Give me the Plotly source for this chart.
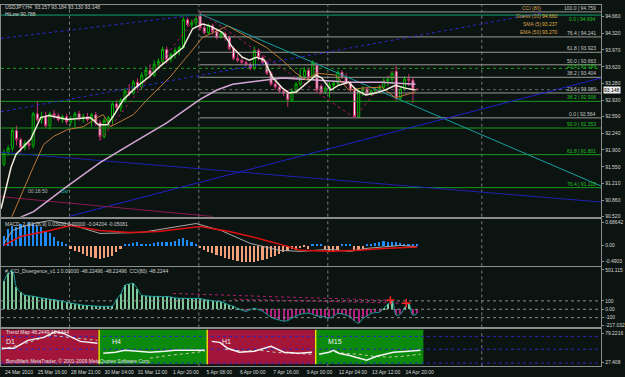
import plotly.graph_objects as go

W, H = 625, 377
BG = '#0b1411'
BORDER = '#8c8c8c'
FONT = 'Liberation Sans'
FS = 5

# ---------------- data ----------------
bars = list(range(100))
open_ = [91.603, 91.849, 91.931, 92.300, 92.115, 91.951, 92.033, 91.992, 92.648, 92.525,
         92.587, 92.402, 92.648, 92.607, 92.525, 92.587, 92.484, 92.546, 92.648, 92.546,
         92.587, 92.525, 92.628, 92.464, 92.177, 92.505, 92.566, 92.853, 92.771, 92.935,
         93.120, 93.079, 93.304, 93.202, 93.448, 93.550, 93.448, 93.673, 93.735, 93.981,
         93.776, 93.878, 93.960, 94.022, 94.596, 94.493, 94.534, 94.678, 94.432, 94.329,
         94.473, 94.350, 94.227, 94.309, 94.227, 94.001, 93.796, 93.755, 93.714, 93.673,
         93.591, 93.960, 93.817, 93.714, 93.489, 93.263, 93.202, 93.120, 93.079, 92.935,
         93.120, 93.263, 93.427, 93.550, 93.407, 93.653, 93.222, 93.099, 93.181, 93.243,
         93.284, 93.509, 93.407, 93.284, 93.140, 92.587, 93.120, 93.161, 93.058, 93.120,
         93.161, 93.202, 93.325, 93.366, 93.530, 92.976, 93.161, 93.366, 93.345, 93.157]
high = [91.910, 91.992, 92.361, 92.402, 92.156, 92.095, 92.115, 92.689, 92.894, 92.689,
        92.689, 92.689, 92.730, 92.669, 92.628, 92.648, 92.607, 92.689, 92.710, 92.648,
        92.669, 92.669, 92.689, 92.525, 92.566, 92.607, 92.894, 92.935, 92.976, 93.181,
        93.263, 93.345, 93.386, 93.509, 93.632, 93.673, 93.755, 93.796, 94.042, 94.042,
        93.919, 94.022, 94.063, 94.657, 94.637, 94.596, 94.657, 94.759, 94.534, 94.514,
        94.514, 94.411, 94.370, 94.350, 94.268, 94.042, 93.899, 93.837, 93.755, 93.714,
        94.042, 94.001, 93.858, 93.755, 93.530, 93.325, 93.263, 93.181, 93.140, 93.181,
        93.304, 93.591, 93.612, 93.591, 93.755, 93.714, 93.263, 93.222, 93.304, 93.325,
        93.550, 93.550, 93.489, 93.325, 93.181, 93.181, 93.222, 93.202, 93.161, 93.202,
        93.243, 93.386, 93.427, 93.530, 93.632, 93.222, 93.427, 93.468, 93.407, 93.184]
low = [91.562, 91.787, 91.869, 91.992, 91.849, 91.890, 91.910, 91.931, 92.484, 92.443,
       92.361, 92.320, 92.546, 92.484, 92.464, 92.423, 92.402, 92.361, 92.505, 92.464,
       92.484, 92.382, 92.402, 92.095, 92.136, 92.361, 92.423, 92.730, 92.689, 92.874,
       93.017, 93.038, 93.140, 93.161, 93.345, 93.386, 93.407, 93.591, 93.673, 93.694,
       93.714, 93.796, 93.858, 94.001, 94.452, 94.432, 94.452, 94.370, 94.288, 94.288,
       94.288, 94.186, 94.206, 94.165, 93.960, 93.755, 93.714, 93.673, 93.632, 93.550,
       93.550, 93.755, 93.673, 93.448, 93.222, 93.140, 93.079, 93.017, 92.792, 92.894,
       93.058, 93.222, 93.366, 93.345, 93.366, 93.099, 93.058, 93.058, 92.976, 93.120,
       93.243, 93.366, 93.243, 93.099, 92.564, 92.575, 93.017, 93.017, 93.017, 93.058,
       93.099, 93.140, 93.222, 93.263, 92.915, 92.935, 93.120, 93.222, 92.874, 93.130]
close = [91.849, 91.931, 92.300, 92.115, 91.951, 92.033, 91.992, 92.648, 92.525, 92.587,
         92.402, 92.648, 92.607, 92.525, 92.587, 92.484, 92.546, 92.648, 92.546, 92.587,
         92.525, 92.628, 92.464, 92.177, 92.505, 92.566, 92.853, 92.771, 92.935, 93.120,
         93.079, 93.304, 93.202, 93.448, 93.550, 93.448, 93.673, 93.735, 93.981, 93.776,
         93.878, 93.960, 94.022, 94.596, 94.493, 94.534, 94.616, 94.432, 94.329, 94.473,
         94.350, 94.227, 94.309, 94.227, 94.001, 93.796, 93.755, 93.714, 93.673, 93.591,
         93.960, 93.817, 93.714, 93.489, 93.263, 93.202, 93.120, 93.079, 92.935, 93.120,
         93.263, 93.427, 93.550, 93.407, 93.714, 93.140, 93.099, 93.181, 93.243, 93.284,
         93.509, 93.407, 93.284, 93.140, 92.587, 93.120, 93.161, 93.058, 93.120, 93.161,
         93.202, 93.325, 93.366, 93.489, 92.976, 93.161, 93.366, 93.345, 93.161, 93.148]

# moving averages (read at sparse points: bar position, price)
sma5_x = [-0.7, 0.5, 1.7, 2.9, 4.0, 6.4, 8.8, 10.7, 15.2, 20.7, 22.6, 24.8, 26.7, 28.6, 31.4,
          35.0, 37.4, 39.8, 42.9, 45.2, 47.6, 49.3, 52.4, 54.8, 57.1, 58.8, 60.5, 62.4, 64.3,
          66.7, 68.3, 70.0, 72.4, 74.8, 76.2, 78.3, 80.2, 82.6, 84.5, 86.7, 89.0, 91.4, 93.8,
          96.2, 98.6]
sma5_y = [90.68, 91.09, 91.54, 91.81, 91.91, 92.12, 92.57, 92.61, 92.53, 92.57, 92.42, 92.42,
          92.67, 92.94, 93.18, 93.43, 93.63, 93.80, 94.02, 94.41, 94.51, 94.47, 94.33, 94.02,
          93.82, 93.76, 93.82, 93.76, 93.41, 93.18, 93.08, 93.10, 93.28, 93.45, 93.39, 93.14,
          93.24, 93.30, 93.14, 93.04, 93.08, 93.14, 93.24, 93.18, 93.14]
guess_x = [1.7, 4.0, 7.1, 9.5, 11.9, 15.2, 19.0, 22.4, 23.8, 25.5, 31.0, 34.3, 39.8, 44.5,
           47.6, 53.6, 55.7, 58.8, 62.9, 66.7, 70.0, 72.4, 74.8, 79.5, 82.6, 85.7, 90.5, 93.8,
           98.6]
guess_y = [90.48, 90.95, 91.56, 92.01, 92.18, 92.32, 92.38, 92.57, 92.63, 92.38, 92.63, 92.94,
           93.41, 93.90, 94.23, 94.47, 94.37, 94.23, 94.02, 93.76, 93.49, 93.35, 93.49, 93.45,
           93.14, 93.18, 93.20, 92.98, 93.10]
ema50_x = [3.3, 7.1, 15.2, 23.1, 31.0, 39.0, 46.9, 51.0, 54.8, 58.8, 66.7, 74.8, 82.6, 90.5, 98.6]
ema50_y = [90.48, 90.62, 91.15, 91.64, 92.05, 92.46, 92.94, 93.14, 93.26, 93.30, 93.39, 93.35,
           93.30, 93.30, 93.26]

# zigzag swing points (bar, price)
zz_x = [23, 47, 84, 94]
zz_y = [92.095, 94.759, 92.564, 93.632]

# trend lines: (bar0, price0, bar1, price1)
teal_line = [46.9, 94.72, 143.1, 91.15]
blue_up = [15.5, 90.52, 143.1, 93.39]
blue_down = [-0.7, 91.85, 143.1, 90.82]
blue_dot1 = [-0.7, 94.21, 44.5, 94.68]
blue_dot2 = [-0.7, 92.69, 129.0, 94.74]
maroon_line = [-0.7, 90.93, 50.0, 90.52]

# fibonacci levels
fib_grey_lv = ['100.0', '76.4', '61.8', '50.0', '38.2', '23.6', '0.0']
fib_grey_px = [94.759, 94.241, 93.923, 93.663, 93.404, 93.080, 92.564]
fib_green_lv = ['0.0', '23.6', '38.2', '50.0', '61.8', '76.4']
fib_green_px = [94.694, 93.589, 92.906, 92.353, 91.801, 91.118]
fib_start_bar = 46.9

price_ticks = [94.660, 94.320, 93.970, 93.620, 93.280, 92.930, 92.590, 92.240, 91.900,
               91.550, 91.210, 90.860, 90.520]
last_price = 93.148
grid_bars = [15.7, 46.7, 77.6, 114.5]

time_ticks = [0, 8, 16, 24, 32, 40, 48, 56, 64, 72, 80, 88, 96]
time_text = ['24 Mar 2010', '25 Mar 16:00', '28 Mar 21:00', '30 Mar 04:00', '31 Mar 12:00',
             '1 Apr 20:00', '5 Apr 08:00', '6 Apr 00:00', '7 Apr 16:00', '9 Apr 00:00',
             '12 Apr 04:00', '13 Apr 12:00', '14 Apr 20:00']

# MACD
macd_hist = [0.30, 0.50, 0.60, 0.55, 0.66, 0.60, 0.72, 0.66, 0.60, 0.57,
             0.42, 0.38, 0.27, 0.15, 0.10, 0.05, -0.10, -0.15, -0.20, -0.25,
             -0.30, -0.35, -0.38, -0.40, -0.38, -0.35, -0.30, -0.20, -0.10, 0.03,
             0.05, 0.08, 0.10, 0.06, 0.04, 0.05, 0.08, 0.10, 0.12, 0.10,
             0.12, 0.15, 0.20, 0.22, 0.18, 0.12, 0.05, -0.08, -0.12, -0.18,
             -0.22, -0.28, -0.32, -0.36, -0.40, -0.44, -0.46, -0.48, -0.50, -0.50,
             -0.48, -0.45, -0.42, -0.40, -0.35, -0.30, -0.25, -0.20, -0.15, -0.10,
             -0.12, -0.08, -0.05, -0.10, 0.05, 0.06, 0.04, -0.10, -0.15, -0.20,
             -0.12, 0.03, 0.05, 0.04, -0.12, -0.15, -0.10, 0.03, 0.05, 0.08,
             0.10, 0.15, 0.12, 0.10, 0.12, 0.08, 0.06, 0.05, 0.03, 0.04]
macd_sig_x = [0, 4, 11, 16, 23, 30, 37, 47, 54, 61, 68, 71, 78, 85, 92, 99]
macd_sig_y = [0.0, 0.27, 0.45, 0.60, 0.45, 0.39, 0.42, 0.57, 0.42, 0.21, -0.03, -0.15, -0.18,
              -0.15, -0.09, -0.05]
macd_main_x = [0, 2, 6, 11, 16, 23, 33, 42, 46, 52, 59, 66, 71, 78, 83, 87, 95, 99]
macd_main_y = [0.06, 0.45, 0.63, 0.75, 0.63, 0.36, 0.39, 0.57, 0.66, 0.45, 0.06, -0.15, -0.18,
               -0.12, -0.18, -0.09, 0.0, -0.04]

# CCI
cci = [329, 430, 455, 260, 200, 170, 160, 155, 145, 135,
       128, 120, 115, 105, 95, 85, 75, 65, 58, 47,
       45, 42, 38, 35, 35, 35, 40, 120, 180, 282,
       300, 306, 240, 165, 160, 155, 153, 153, 150, 153,
       145, 135, 130, 130, 128, 128, 129, 129, 115, 110,
       100, 94, 90, 70, 50, 35, 10, -10, -24, -5,
       12, -5, -24, -60, -95, -115, -130, -141, -135, -106,
       -80, -60, -50, -47, -60, -82, -82, -95, -106, -80,
       -50, -55, -71, -90, -140, -165, -110, -80, -50, -40,
       -35, 10, 60, 106, -71, -60, 20, 71, -71, -48.22]
div_a_x = [40.5, 92.6]
div_a_y = [188, 106]
div_b_x = [55.0, 96.4]
div_b_y = [120, 71]
cci_levels = [100, 0, -100]

# Trend map
tm_names = ['D1', 'H4', 'H1', 'M15']
tm_x0 = [-0.71, 22.9, 48.8, 74.8]
tm_x1 = [22.6, 48.6, 74.5, 100.5]
tm_color = ['#a3163a', '#0c8a0c', '#a3163a', '#0c8a0c']
tm_white_x = [[-0.5, 2.4, 5.7, 9.5, 12.4, 14.3, 18.3, 22.4],
              [23.8, 26.7, 29.0, 31.4, 35.0, 38.6, 41.0, 44.5, 48.1],
              [49.8, 51.7, 53.6, 56.4, 60.0, 64.0, 67.1, 70.7, 73.8],
              [75.5, 77.9, 79.0, 80.2, 82.6, 86.9, 89.3, 93.3, 96.9, 99.8]]
tm_white_y = [[52.4, 52.4, 66.7, 72.1, 82.8, 79.2, 64.9, 61.4],
              [43.5, 45.3, 48.9, 47.1, 45.3, 47.1, 48.9, 48.9, 48.9],
              [64.9, 63.1, 52.4, 45.3, 47.1, 56.0, 45.3, 43.5, 45.3],
              [41.7, 45.3, 48.9, 43.5, 39.9, 31.0, 38.1, 45.3, 47.1, 48.9]]
tm_dot_x = [[-0.5, 5.2, 11.2, 16.0, 22.4],
            [35.0, 39.8, 44.5, 48.1],
            [52.9, 57.6, 61.2, 64.8, 68.3, 73.8],
            [77.9, 81.4, 85.0, 88.6, 92.1, 95.7, 99.8]]
tm_dot_y = [[50.6, 61.4, 75.7, 72.1, 66.7],
            [34.6, 39.9, 43.5, 47.1],
            [50.6, 47.1, 48.9, 45.3, 43.5, 41.7],
            [47.1, 43.5, 41.7, 38.1, 36.4, 38.1, 41.7]]
tm_hlines = [73.9, 50.7, 25.7]

# ---------------- figure ----------------
X0, X1 = -0.714, 143.1
XD = [0, 604 / W]


def dom(top, bot):
    return [1 - bot / H, 1 - top / H]


def pxx(x):
    return x / W


def pxy(y):
    return 1 - y / H


fig = go.Figure()

fig.add_trace(go.Candlestick(
    x=bars, open=open_, high=high, low=low, close=close, xaxis='x', yaxis='y',
    increasing=dict(line=dict(color='#00b400', width=1), fillcolor=BG),
    decreasing=dict(line=dict(color='#c8306e', width=1), fillcolor='#f4e4ec'),
    whiskerwidth=0, showlegend=False, hoverinfo='skip'))


def seg(l, color, width=1, dash='solid'):
    fig.add_trace(go.Scatter(x=[l[0], l[2]], y=[l[1], l[3]], mode='lines', xaxis='x', yaxis='y',
                             line=dict(color=color, width=width, dash=dash),
                             showlegend=False, hoverinfo='skip'))


for lv, p in zip(fib_grey_lv, fib_grey_px):
    fig.add_trace(go.Scatter(x=[fib_start_bar, X1], y=[p, p], mode='lines', xaxis='x', yaxis='y',
                             line=dict(color='#9a9a94', width=1), showlegend=False, hoverinfo='skip'))
for lv, p in zip(fib_green_lv, fib_green_px):
    c = '#12a070' if lv == '0.0' else '#1c9a1c'
    d = 'dot' if lv == '23.6' else 'solid'
    fig.add_trace(go.Scatter(x=[X0, X1], y=[p, p], mode='lines', xaxis='x', yaxis='y',
                             line=dict(color=c, width=1, dash=d), showlegend=False, hoverinfo='skip'))

seg(teal_line, '#17a0a0')
seg(blue_up, '#2020c8')
seg(blue_down, '#2020b0')
seg(blue_dot1, '#2a2ad0', dash='dot')
seg(blue_dot2, '#2a2ad0', dash='dot')
seg(maroon_line, '#8a1a50')

fig.add_trace(go.Scatter(x=zz_x, y=zz_y, mode='lines', xaxis='x', yaxis='y',
                         line=dict(color='#b01a5a', width=1, dash='dot'), showlegend=False,
                         hoverinfo='skip'))

fig.add_trace(go.Scatter(x=[X0, X1], y=[last_price, last_price], mode='lines', xaxis='x', yaxis='y',
                         line=dict(color='#6a6a6a', width=1, dash='dot'), showlegend=False,
                         hoverinfo='skip'))

fig.add_trace(go.Scatter(x=ema50_x, y=ema50_y, mode='lines', xaxis='x', yaxis='y',
                         line=dict(color='#d6a6d6', width=1.5), showlegend=False, hoverinfo='skip'))
fig.add_trace(go.Scatter(x=guess_x, y=guess_y, mode='lines', xaxis='x', yaxis='y',
                         line=dict(color='#c07838', width=1), showlegend=False, hoverinfo='skip'))
fig.add_trace(go.Scatter(x=sma5_x, y=sma5_y, mode='lines', xaxis='x', yaxis='y',
                         line=dict(color='#f2ead8', width=1.5), showlegend=False, hoverinfo='skip'))

# MACD
fig.add_trace(go.Bar(x=bars, y=macd_hist, xaxis='x2', yaxis='y2', width=0.4,
                     marker=dict(color=['#1e8cff' if v >= 0 else '#f4a07a' for v in macd_hist],
                                 line=dict(width=0)),
                     showlegend=False, hoverinfo='skip'))
fig.add_trace(go.Scatter(x=macd_main_x, y=macd_main_y, mode='lines', xaxis='x2', yaxis='y2',
                         line=dict(color='#a8a8a8', width=1), showlegend=False, hoverinfo='skip'))
fig.add_trace(go.Scatter(x=macd_sig_x, y=macd_sig_y, mode='lines', xaxis='x2', yaxis='y2',
                         line=dict(color='#e01010', width=1.5), showlegend=False, hoverinfo='skip'))

# CCI
for lv in cci_levels:
    fig.add_trace(go.Scatter(x=[X0, X1], y=[lv, lv], mode='lines', xaxis='x3', yaxis='y3',
                             line=dict(color='#8a8a8a', width=1, dash='dot'), showlegend=False,
                             hoverinfo='skip'))
fig.add_trace(go.Bar(x=bars, y=cci, xaxis='x3', yaxis='y3', width=0.25,
                     marker=dict(color=['#7fc89a' if v >= 0 else '#b0207e' for v in cci],
                                 line=dict(width=0)),
                     showlegend=False, hoverinfo='skip'))
fig.add_trace(go.Scatter(x=div_a_x, y=div_a_y, mode='lines', xaxis='x3', yaxis='y3',
                         line=dict(color='#b0206e', width=1, dash='dot'), showlegend=False,
                         hoverinfo='skip'))
fig.add_trace(go.Scatter(x=div_b_x, y=div_b_y, mode='lines', xaxis='x3', yaxis='y3',
                         line=dict(color='#b0206e', width=1, dash='dot'), showlegend=False,
                         hoverinfo='skip'))
fig.add_trace(go.Scatter(x=bars, y=cci, mode='lines', xaxis='x3', yaxis='y3',
                         line=dict(color='#1aa0a0', width=1, shape='spline'), showlegend=False,
                         hoverinfo='skip'))
fig.add_trace(go.Scatter(x=[div_a_x[1], div_b_x[1]], y=[div_a_y[1], div_b_y[1]], mode='markers',
                         xaxis='x3', yaxis='y3',
                         marker=dict(symbol='cross-thin', size=6, line=dict(color='#ff2020', width=1.5)),
                         showlegend=False, hoverinfo='skip'))

# Trend map boxes
for i in range(4):
    fig.add_shape(type='rect', xref='x4', yref='y4', x0=tm_x0[i], x1=tm_x1[i], y0=23.86, y1=86.37,
                  fillcolor=tm_color[i], line=dict(width=0), layer='below')
for b in tm_x0[1:]:
    fig.add_shape(type='line', xref='x4', yref='y4', x0=b - 0.1, x1=b - 0.1, y0=23.86, y1=86.37,
                  line=dict(color='#f0e000', width=1.5))
for v in tm_hlines:
    fig.add_trace(go.Scatter(x=[X0, X1], y=[v, v], mode='lines', xaxis='x4', yaxis='y4',
                             line=dict(color='#2828c0', width=1, dash='dot'), showlegend=False,
                             hoverinfo='skip'))
for i in range(4):
    fig.add_trace(go.Scatter(x=tm_dot_x[i], y=tm_dot_y[i], mode='lines', xaxis='x4', yaxis='y4',
                             line=dict(color='#c8c8b0', width=1, dash='dot'), showlegend=False,
                             hoverinfo='skip'))
    fig.add_trace(go.Scatter(x=tm_white_x[i], y=tm_white_y[i], mode='lines', xaxis='x4', yaxis='y4',
                             line=dict(color='#f4f4f4', width=1.5), showlegend=False, hoverinfo='skip'))
fig.add_trace(go.Scatter(x=[144.6, 144.6, 144.6], y=[79.2, 51.5, 27.4], mode='markers',
                         xaxis='x4', yaxis='y4', cliponaxis=False,
                         marker=dict(symbol='square', size=7, color='#1c28c8'),
                         showlegend=False, hoverinfo='skip'))

for g in grid_bars:
    for ya in ['y', 'y2', 'y3', 'y4']:
        fig.add_shape(type='line', xref='x', yref=ya + ' domain', x0=g, x1=g, y0=0, y1=1,
                      line=dict(color='#7a7a7a', width=1, dash='dot'), layer='below')

axis_common = dict(showgrid=False, zeroline=False, showline=True, linecolor=BORDER, linewidth=1,
                   mirror=True)
tickfont = dict(family=FONT, size=FS, color='#d8d8d8')

fig.update_layout(
    width=W, height=H, margin=dict(l=0, r=0, t=0, b=0),
    paper_bgcolor=BG, plot_bgcolor=BG, barmode='overlay', bargap=0,
    xaxis=dict(domain=XD, range=[X0, X1], anchor='y', showticklabels=False, ticks='',
               rangeslider=dict(visible=False), **axis_common),
    xaxis2=dict(domain=XD, range=[X0, X1], anchor='y2', matches='x', showticklabels=False, ticks='',
                **axis_common),
    xaxis3=dict(domain=XD, range=[X0, X1], anchor='y3', matches='x', showticklabels=False, ticks='',
                **axis_common),
    xaxis4=dict(domain=XD, range=[X0, X1], anchor='y4', matches='x', tickvals=time_ticks,
                ticktext=time_text, tickfont=tickfont, ticks='', tickangle=0, ticklabelshift=15,
                ticklabelstandoff=1, **axis_common),
    yaxis=dict(domain=dom(4, 218), range=[90.516, 94.903], side='right', anchor='x',
               tickvals=price_ticks, ticktext=['%.3f' % v for v in price_ticks],
               tickfont=tickfont, ticks='outside', ticklen=2, tickcolor=BORDER, **axis_common),
    yaxis2=dict(domain=dom(220, 268), range=[-0.627, 0.806], side='right', anchor='x2',
                tickvals=[0.68642, 0.0, -0.4903], ticktext=['0.68642', '0.00', '-0.4903'],
                tickfont=tickfont, ticks='outside', ticklen=2, tickcolor=BORDER, **axis_common),
    yaxis3=dict(domain=dom(269, 330), range=[-217.032, 501.115], side='right', anchor='x3',
                tickvals=[470, 100, 0, -100, -195], ticktext=['501.115', '100', '0.00', '-100', '-217.032'],
                tickfont=tickfont, ticks='outside', ticklen=2, tickcolor=BORDER, **axis_common),
    yaxis4=dict(domain=dom(332, 369), range=[20.33, 86.37], side='right', anchor='x4',
                tickvals=[79.2216, 27.408], ticktext=['79.2216', '27.408'],
                tickfont=tickfont, ticks='outside', ticklen=2, tickcolor=BORDER, **axis_common),
)

fig.add_annotation(xref='paper', yref='y', x=pxx(606), y=last_price, text='%.3f' % last_price,
                   showarrow=False, xanchor='left', yanchor='middle',
                   font=dict(family=FONT, size=FS, color='#000000'), bgcolor='#f0f0f0', borderpad=0)


def txt(x, y, s, color='#d0d0d0', size=FS, xanchor='left', yanchor='middle'):
    fig.add_annotation(xref='paper', yref='paper', x=pxx(x), y=pxy(y), text=s, showarrow=False,
                       xanchor=xanchor, yanchor=yanchor,
                       font=dict(family=FONT, size=size, color=color))


txt(2, 6, 'USDJPY,H4  93.157 93.184 93.130 93.148')
txt(2, 13, 'HiLow 90.788')

for lv, p in zip(fib_grey_lv, fib_grey_px):
    fig.add_annotation(xref='paper', yref='y', x=pxx(601), y=p, text='%s | %.3f' % (lv, p),
                       showarrow=False, xanchor='right', yanchor='bottom', yshift=-1,
                       font=dict(family=FONT, size=FS, color='#c8c8c8'))
for lv, p in zip(fib_green_lv, fib_green_px):
    below = lv == '0.0'
    ys = 1 if below else (-3 if lv == '23.6' else -1)
    fig.add_annotation(xref='paper', yref='y', x=pxx(601), y=p, text='%s | %.3f' % (lv, p),
                       showarrow=False, xanchor='right', yanchor='top' if below else 'bottom',
                       yshift=ys, font=dict(family=FONT, size=FS, color='#22c022'))

leg_names = ['CCI (80)', 'Guess (10)', 'SMA (5)', 'EMA (50)']
leg_vals = ['', '94.660', '93.237', '93.270']
for i, (n, v) in enumerate(zip(leg_names, leg_vals)):
    txt(545, 7 + 8 * i, n, color='#d8a050', xanchor='right')
    if v:
        txt(563, 7 + 8 * i, v, color='#e0b040', xanchor='right')

txt(25, 192, '00:18:50', color='#b8b8b8')
txt(58, 192, 'Bar', color='#18a0a0')

txt(2, 225, 'MACD_2 (12,26,9) 0.03930 0.00000 -0.04204 -0.05081', color='#d0d0d0')
txt(2, 273, '#_CCI_Divergence_v1.1 0.00000 -48.22496 -48.22496  CCI(80) -48.2244', color='#d0d0d0')

txt(3, 335, 'Trend Map 48.2449 41.1444', color='#e0e0e0')
txt(3, 364, 'BondMark MetaTrader, \u00a9 2001-2009 MetaQuotes Software Corp.', color='#e0e0e0')
for i, n in enumerate(tm_names):
    cx = [3, 110, 220, 327][i]
    txt(cx, 344, n, color='#f0f0f0', size=7)

fig.write_html('out.html')
